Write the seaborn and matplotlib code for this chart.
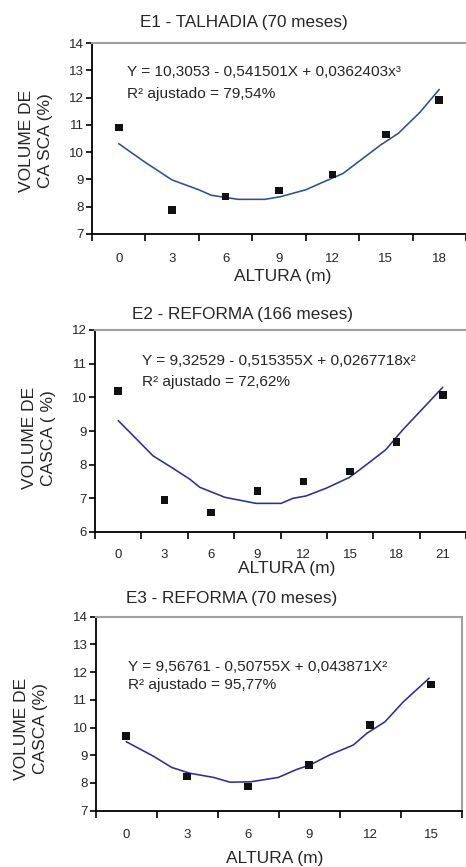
import matplotlib
matplotlib.use("Agg")
import matplotlib.pyplot as plt
import seaborn as sns
import numpy as np
import pandas as pd

sns.set_theme(style="white")
plt.rcParams['font.family'] = ['Liberation Sans', 'DejaVu Sans']

# ---------------- data ----------------
e1_alturas = [0, 3, 6, 9, 12, 15, 18]
e1_volume = [10.9, 7.88, 8.38, 8.6, 9.18, 10.65, 11.9]
e1_curve_x = [0, 1.5, 3, 4.5, 5.2, 6.7, 8.2, 9.1, 10.5, 11.4, 12.6, 14.7, 15.7, 16.9, 18]
e1_curve_y = [10.31, 9.62, 8.98, 8.62, 8.42, 8.27, 8.27, 8.37, 8.62, 8.88, 9.22, 10.26, 10.69, 11.45, 12.30]

e2_alturas = [0, 3, 6, 9, 12, 15, 18, 21]
e2_volume = [10.18, 6.95, 6.58, 7.22, 7.5, 7.8, 8.68, 10.07]
e2_curve_x = [0, 2.26, 3.45, 4.63, 5.27, 6.9, 8.93, 10.54, 11.3, 12.15, 13.45, 14.95, 15.6, 17.3, 18.4, 21]
e2_curve_y = [9.31, 8.26, 7.92, 7.57, 7.33, 7.03, 6.85, 6.85, 7.0, 7.07, 7.30, 7.62, 7.84, 8.44, 9.03, 10.30]

e3_alturas = [0, 3, 6, 9, 12, 15]
e3_volume = [9.7, 8.23, 7.88, 8.65, 10.1, 11.56]
e3_curve_x = [0, 1.33, 2.24, 3.14, 4.3, 5.1, 6.1, 7.48, 8.39, 9.04, 10.0, 11.17, 11.83, 12.73, 13.63, 14.9]
e3_curve_y = [9.49, 8.97, 8.56, 8.35, 8.20, 8.03, 8.04, 8.20, 8.49, 8.65, 9.01, 9.37, 9.79, 10.21, 10.93, 11.78]

titles = ["E1 - TALHADIA (70 meses)", "E2 - REFORMA (166 meses)", "E3 - REFORMA (70 meses)"]
equations = ["Y = 10,3053 - 0,541501X + 0,0362403x³",
             "Y = 9,32529 - 0,515355X + 0,0267718x²",
             "Y = 9,56761 - 0,50755X + 0,043871X²"]
r2_texts = ["R² ajustado = 79,54%", "R² ajustado = 72,62%", "R² ajustado = 95,77%"]
ylabels = ["VOLUME DE\nCA SCA (%)", "VOLUME DE\nCASCA ( %)", "VOLUME DE\nCASCA (%)"]
xlabel = "ALTURA (m)"
ylims = [(7, 14), (6, 12), (7, 14)]

W, H = 466, 867
fig = plt.figure(figsize=(W / 100, H / 100), dpi=100)

panels = [
    dict(alt=e1_alturas, vol=e1_volume, cx=e1_curve_x, cy=e1_curve_y,
         box=(92, 466, 43, 234), xmax=-0.5 + 374 / 54, color="#2b4f98", right=False,
         title_xy=(244, 22), eq_xy=(127, 72), r2_xy=(127, 94), yl_xy=(36, 141),
         tick_pad=14, xl_xy=(283, 276)),
    dict(alt=e2_alturas, vol=e2_volume, cx=e2_curve_x, cy=e2_curve_y,
         box=(95, 466, 330, 532), xmax=-0.5 + 371 / 46.5, color="#2a2f98", right=False,
         title_xy=(243, 315), eq_xy=(142, 361), r2_xy=(142, 382), yl_xy=(39, 438),
         tick_pad=12, xl_xy=(287, 569)),
    dict(alt=e3_alturas, vol=e3_volume, cx=e3_curve_x, cy=e3_curve_y,
         box=(95.7, 461.7, 616.7, 810.7), xmax=5.5, color="#2a2f98", right=True,
         title_xy=(232, 598), eq_xy=(128, 667), r2_xy=(128, 685), yl_xy=(31, 729),
         tick_pad=13, xl_xy=(275, 859)),
]

for i, p in enumerate(panels):
    l, r, t, b = p["box"]
    ax = fig.add_axes([l / W, (H - b) / H, (r - l) / W, (b - t) / H])
    pos = [a / 3 for a in p["alt"]]
    cpos = [a / 3 for a in p["cx"]]
    df_pts = pd.DataFrame({"pos": pos, "vol": p["vol"]})
    df_curve = pd.DataFrame({"pos": cpos, "vol": p["cy"]})
    sns.lineplot(data=df_curve, x="pos", y="vol", sort=False, estimator=None,
                 color=p["color"], linewidth=1.15, ax=ax, zorder=2)
    sns.scatterplot(data=df_pts, x="pos", y="vol", marker="s", s=30, color="#111111",
                    edgecolor="none", ax=ax, zorder=3)
    ax.set_xlim(-0.5, p["xmax"])
    ax.set_ylim(*ylims[i])
    ax.set_xlabel("")
    ax.set_ylabel("")
    n = len(p["alt"])
    ax.set_xticks([k - 0.5 for k in range(n + 1)])
    ax.set_xticklabels([])
    ax.set_xticks(list(range(n)), minor=True)
    ax.set_xticklabels([str(a) for a in p["alt"]], minor=True, fontsize=9.5)
    ax.tick_params(axis="x", which="major", direction="out", length=5, width=1.2,
                   color="black", bottom=True)
    ax.tick_params(axis="x", which="minor", length=0, pad=p["tick_pad"])
    yt = list(range(ylims[i][0], ylims[i][1] + 1))
    ax.set_yticks(yt)
    ax.set_yticklabels([str(v) for v in yt], fontsize=9.5)
    ax.tick_params(axis="y", direction="out", length=4, width=1.2, color="black",
                   left=True, pad=2)
    for s in ["left", "bottom"]:
        ax.spines[s].set_color("black")
        ax.spines[s].set_linewidth(1.3)
    ax.spines["top"].set_color("#a0a0a0")
    ax.spines["top"].set_linewidth(1.5)
    ax.spines["right"].set_visible(p["right"])
    ax.spines["right"].set_color("#a0a0a0")
    ax.spines["right"].set_linewidth(1.5)
    ax.grid(False)

    tx, ty = p["title_xy"]
    fig.text(tx / W, 1 - ty / H, titles[i], ha="center", va="center", fontsize=12.3)
    ex, ey = p["eq_xy"]
    fig.text(ex / W, 1 - ey / H, equations[i], ha="left", va="center", fontsize=11.1)
    rx, ry = p["r2_xy"]
    fig.text(rx / W, 1 - ry / H, r2_texts[i], ha="left", va="center", fontsize=11.1)
    yx, yy = p["yl_xy"]
    fig.text(yx / W, 1 - yy / H, ylabels[i], ha="center", va="center", rotation=90,
             fontsize=12.5, multialignment="center", linespacing=1.3)
    xx, xy = p["xl_xy"]
    fig.text(xx / W, 1 - xy / H, xlabel, ha="center", va="center", fontsize=12.5)

fig.savefig("out.png", dpi=100, facecolor="white")
